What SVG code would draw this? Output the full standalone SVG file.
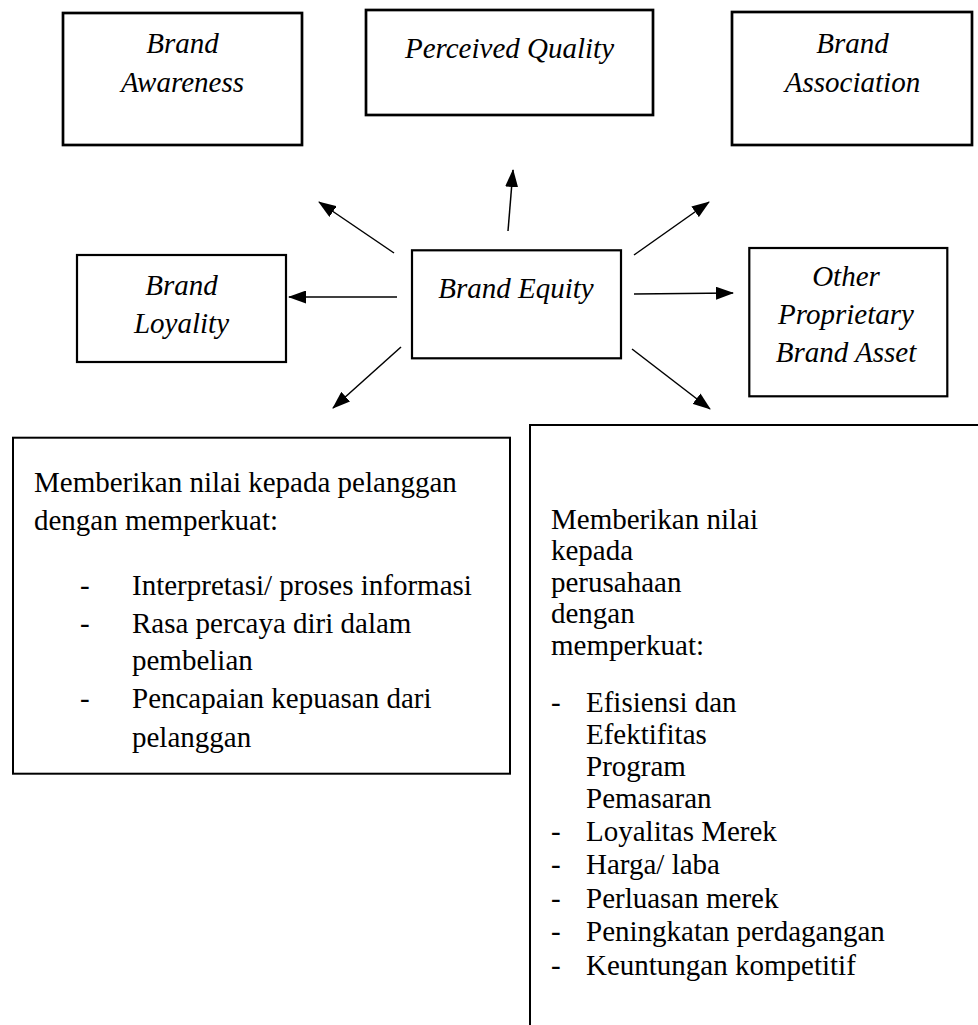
<svg xmlns="http://www.w3.org/2000/svg" width="978" height="1025" viewBox="0 0 978 1025">
  <style>
    .box { fill: #ffffff; stroke: #000000; }
    .thick { stroke-width: 2.7; }
    .mid { stroke-width: 2.2; }
    .thin { stroke-width: 2; }
    .lbl { font-style: italic; font-size: 29px; fill: #000000; text-anchor: middle; }
    .body { font-size: 29px; fill: #000000; }
    .conn { stroke: #000000; stroke-width: 1.5; fill: none; marker-end: url(#head); }
  </style>
  <defs>
    <marker id="head" markerUnits="userSpaceOnUse" markerWidth="18" markerHeight="13" refX="17" refY="6.5" orient="auto">
      <path d="M0,0 L18,6.5 L0,13 Z" fill="#000000"/>
    </marker>
  </defs>
  <rect width="978" height="1025" fill="#ffffff"/>

  <g font-family="'Liberation Serif', 'DejaVu Serif', serif">
  <!-- top row -->
  <g id="brand-awareness">
    <rect class="box thick" x="63" y="13" width="239" height="132"/>
    <text class="lbl" x="182.5" y="53">Brand</text>
    <text class="lbl" x="182.5" y="92">Awareness</text>
  </g>
  <g id="perceived-quality">
    <rect class="box thick" x="366" y="10" width="287" height="105"/>
    <text class="lbl" x="509.5" y="58">Perceived Quality</text>
  </g>
  <g id="brand-association">
    <rect class="box thick" x="732" y="12" width="240" height="133"/>
    <text class="lbl" x="852.5" y="53">Brand</text>
    <text class="lbl" x="852.5" y="92">Association</text>
  </g>

  <!-- middle row -->
  <g id="brand-loyality">
    <rect class="box mid" x="77" y="255" width="209" height="107"/>
    <text class="lbl" x="181.5" y="295">Brand</text>
    <text class="lbl" x="181.5" y="333">Loyality</text>
  </g>
  <g id="brand-equity">
    <rect class="box mid" x="412" y="250.3" width="209" height="108"/>
    <text class="lbl" x="516" y="298">Brand Equity</text>
  </g>
  <g id="other-assets">
    <rect class="box mid" x="749.3" y="248" width="198" height="148.3"/>
    <text class="lbl" x="846" y="286">Other</text>
    <text class="lbl" x="846" y="324">Proprietary</text>
    <text class="lbl" x="846" y="362">Brand Asset</text>
  </g>

  <!-- bottom row -->
  <g id="value-customer">
    <rect class="box thin" x="13" y="437.7" width="497" height="336"/>
    <text class="body" x="34" y="492">Memberikan nilai kepada pelanggan</text>
    <text class="body" x="34" y="530">dengan memperkuat:</text>
    <text class="body" x="80" y="595">-</text>
    <text class="body" x="132" y="595">Interpretasi/ proses informasi</text>
    <text class="body" x="80" y="633">-</text>
    <text class="body" x="132" y="633">Rasa percaya diri dalam</text>
    <text class="body" x="132" y="670">pembelian</text>
    <text class="body" x="80" y="708">-</text>
    <text class="body" x="132" y="708">Pencapaian kepuasan dari</text>
    <text class="body" x="132" y="747">pelanggan</text>
  </g>
  <g id="value-company">
    <rect class="box thin" x="530" y="425" width="460" height="620"/>
    <text class="body" x="551" y="529">Memberikan nilai</text>
    <text class="body" x="551" y="560">kepada</text>
    <text class="body" x="551" y="592">perusahaan</text>
    <text class="body" x="551" y="623">dengan</text>
    <text class="body" x="551" y="655">memperkuat:</text>
    <text class="body" x="551" y="712">-</text>
    <text class="body" x="586" y="712">Efisiensi dan</text>
    <text class="body" x="586" y="744">Efektifitas</text>
    <text class="body" x="586" y="776">Program</text>
    <text class="body" x="586" y="808">Pemasaran</text>
    <text class="body" x="551" y="841">-</text>
    <text class="body" x="586" y="841">Loyalitas Merek</text>
    <text class="body" x="551" y="874">-</text>
    <text class="body" x="586" y="874">Harga/ laba</text>
    <text class="body" x="551" y="908">-</text>
    <text class="body" x="586" y="908">Perluasan merek</text>
    <text class="body" x="551" y="941">-</text>
    <text class="body" x="586" y="941">Peningkatan perdagangan</text>
    <text class="body" x="551" y="975">-</text>
    <text class="body" x="586" y="975">Keuntungan kompetitif</text>
  </g>
  </g>

  <!-- arrows radiating from Brand Equity -->
  <g id="connectors">
    <line class="conn" x1="394" y1="253" x2="319" y2="202"/>
    <line class="conn" x1="508" y1="231" x2="513" y2="170"/>
    <line class="conn" x1="634" y1="255" x2="709" y2="202"/>
    <line class="conn" x1="397" y1="297" x2="289" y2="297"/>
    <line class="conn" x1="634" y1="294" x2="733" y2="293"/>
    <line class="conn" x1="401" y1="347" x2="333" y2="408"/>
    <line class="conn" x1="632" y1="349" x2="710" y2="409"/>
  </g>
</svg>
